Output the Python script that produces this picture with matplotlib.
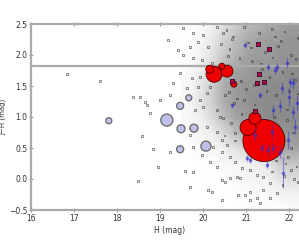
import matplotlib
matplotlib.use("Agg")
import matplotlib.pyplot as plt
from matplotlib.colors import LinearSegmentedColormap
import numpy as np

# grey haze of the dense cloud (0 = empty, 1 = full)
grid_x = [19.5, 19.75, 20.0, 20.25, 20.5, 20.75, 21.0, 21.25, 21.5, 21.75, 22.0, 22.25, 22.5]
grid_y = [-0.5, -0.25, 0.0, 0.25, 0.5, 0.75, 1.0, 1.25, 1.5, 1.75, 2.0, 2.25, 2.5]
density = [
    [0, 0, 0, 0, 0, 0, 0, 0, 0, 0, 0.02, 0.02, 0.02],
    [0, 0, 0, 0, 0, 0.01, 0.02, 0.03, 0.03, 0.06, 0.08, 0.08, 0.08],
    [0, 0, 0, 0.01, 0.02, 0.03, 0.05, 0.06, 0.08, 0.15, 0.2, 0.2, 0.2],
    [0, 0, 0.01, 0.02, 0.04, 0.06, 0.08, 0.1, 0.15, 0.3, 0.35, 0.35, 0.35],
    [0, 0.02, 0.04, 0.06, 0.1, 0.18, 0.28, 0.35, 0.45, 0.55, 0.55, 0.55, 0.55],
    [0.02, 0.04, 0.07, 0.12, 0.25, 0.4, 0.5, 0.55, 0.6, 0.65, 0.65, 0.65, 0.65],
    [0.03, 0.06, 0.12, 0.25, 0.4, 0.55, 0.6, 0.65, 0.7, 0.7, 0.7, 0.7, 0.7],
    [0.04, 0.08, 0.18, 0.32, 0.5, 0.6, 0.65, 0.7, 0.7, 0.7, 0.7, 0.7, 0.7],
    [0.03, 0.07, 0.18, 0.33, 0.5, 0.6, 0.65, 0.65, 0.7, 0.7, 0.7, 0.7, 0.7],
    [0.02, 0.05, 0.14, 0.28, 0.45, 0.55, 0.6, 0.65, 0.65, 0.65, 0.7, 0.7, 0.7],
    [0, 0.03, 0.1, 0.2, 0.35, 0.45, 0.55, 0.6, 0.6, 0.65, 0.65, 0.65, 0.65],
    [0, 0.02, 0.07, 0.14, 0.28, 0.4, 0.5, 0.55, 0.6, 0.6, 0.65, 0.65, 0.65],
    [0, 0, 0.04, 0.1, 0.2, 0.3, 0.4, 0.45, 0.5, 0.55, 0.6, 0.6, 0.6],
]

# individual field sources (H, colour)
dots_x = [16.84, 17.60, 18.37, 18.53, 18.65, 18.70, 18.77, 18.58, 18.49, 18.84,
          19.58, 19.77, 19.70, 20.12, 20.21, 20.44, 20.51, 20.63, 20.79, 20.86,
          20.44, 20.81, 20.98, 21.09, 21.26, 21.40, 21.56, 21.72, 21.09, 20.44,
          20.63, 20.74, 20.91, 21.09, 21.26, 21.40, 21.56, 20.16, 20.33, 19.98,
          20.23, 20.44, 20.56, 19.70, 20.33, 20.09, 20.74, 19.77, 18.95, 19.23,
          21.33, 19.53, 19.77, 20.00, 19.88, 19.70, 20.12, 19.53, 19.77, 19.98,
          19.47, 19.74, 19.93, 19.30, 19.63, 19.88, 19.23, 19.00, 19.93, 20.09,
          19.42, 19.19, 20.33, 20.47, 20.21, 20.16, 20.00, 19.81, 20.33,
          20.55, 20.62, 20.70, 20.85, 20.95, 21.05, 21.15, 21.30, 21.45, 21.60,
          21.75, 21.90, 22.05, 22.20, 20.60, 20.80, 21.00, 21.20, 21.35, 21.55,
          21.70, 21.85, 22.00, 22.15, 20.40, 20.65, 20.90, 21.10, 21.40, 21.65,
          21.95, 22.10, 20.50, 20.75, 21.05, 21.25, 21.50, 21.80, 22.05, 22.25,
          21.92, 22.05, 21.98, 22.18, 21.88, 22.12, 21.70, 21.60, 21.85, 22.20,
          20.42, 20.58, 20.68, 20.36, 20.52, 20.88, 21.12, 21.38, 21.62, 21.82,
          22.08, 22.22, 20.72, 20.96, 21.18, 21.48, 21.68, 21.96, 22.16, 20.46]
dots_y = [1.69, 1.58, 1.32, 1.32, 1.24, 1.19, 1.06, 0.69, -0.03, 0.48,
          0.13, 0.11, -0.13, -0.18, -0.21, -0.02, -0.05, 0.02, 0.03, 0.02,
          -0.34, -0.26, -0.26, -0.34, -0.31, -0.18, -0.31, -0.23, -0.21, 0.44,
          0.35, 0.27, 0.18, 0.15, 0.06, 0.03, -0.06, 0.27, 0.19, 0.39,
          0.52, 0.63, 0.55, 0.71, 0.76, 0.84, 0.74, 0.52, 0.19, 0.44,
          -0.39, 2.44, 2.35, 2.32, 2.21, 2.13, 2.13, 2.00, 1.95, 1.92,
          1.71, 1.63, 1.65, 1.55, 1.47, 1.48, 1.35, 1.27, 1.27, 1.39,
          2.08, 2.24, 2.45, 2.35, 1.87, 1.48, 1.16, 1.11, 1.11,
          2.40, 2.10, 2.30, 1.95, 2.45, 2.20, 1.90, 2.35, 2.05, 2.42,
          2.15, 2.38, 2.00, 2.28, 1.40, 1.30, 1.45, 1.20, 1.85, 1.65,
          1.35, 1.72, 1.42, 1.60, 1.00, 0.90, 1.05, 0.95, 0.88, 1.00,
          0.95, 0.75, 0.70, 0.62, 0.55, 0.45, 0.35, 0.60, 0.50, 0.40,
          0.25, 0.15, 0.35, 0.20, 0.05, 0.00, 0.30, 0.12, -0.10, -0.05,
          2.18, 1.98, 2.26, 1.62, 1.35, 1.58, 2.12, 1.78, 1.96, 2.22,
          1.70, 1.38, 1.22, 1.28, 1.52, 1.42, 2.30, 1.12, 1.94, 0.98]

# hollow circled sources
ring_x = [17.81, 19.16, 19.49, 19.79, 19.47, 19.67, 19.47, 20.07]
ring_y = [0.94, 0.95, 0.81, 0.82, 1.18, 1.31, 0.48, 0.53]
ring_r = [3, 6, 4, 4, 3.5, 3, 3.5, 5]

# red circled sources
red_x = [21.42, 21.05, 21.21, 20.26, 20.56, 20.16, 20.44, 20.72]
red_y = [0.62, 0.83, 0.98, 1.69, 1.74, 1.77, 1.82, 1.53]
red_r = [21, 8, 6, 8, 6, 4, 3, 3]

# red squares
sq_x = [21.28, 21.53, 21.30, 21.42, 21.26, 20.67, 21.21]
sq_y = [2.18, 2.10, 1.69, 1.56, 1.55, 1.58, 1.10]

# blue points with error bars
blue_x = [20.98, 21.95, 21.51, 21.72, 22.09, 21.79, 22.00, 22.19, 21.33, 20.67,
          21.60, 21.37, 21.63, 21.79, 21.98, 22.14, 21.02, 21.49, 21.86, 21.21,
          21.51, 21.09, 21.67, 22.02, 21.84, 21.63, 22.09]
blue_y = [2.16, 1.87, 1.81, 1.81, 1.55, 1.18, 1.32, 1.23, 1.35, 1.19,
          0.76, 0.50, 0.50, 0.44, 0.63, 0.84, 0.34, 0.23, 0.10, 0.71,
          0.47, 0.31, 1.76, 1.56, 1.47, 1.11, 1.08]
blue_e = [0.05, 0.08, 0.05, 0.06, 0.10, 0.10, 0.15, 0.12, 0.05, 0.04,
          0.12, 0.06, 0.08, 0.10, 0.15, 0.12, 0.05, 0.06, 0.25, 0.10,
          0.10, 0.05, 0.06, 0.08, 0.10, 0.08, 0.10]

cut_line = 1.82

fig = plt.figure(figsize=(2.99, 2.40), dpi=100)
ax = fig.add_axes([0.1037, 0.125, 0.93, 0.775])

grey = LinearSegmentedColormap.from_list("haze", ["#ffffff", "#5a5a5a"])
ax.pcolormesh(grid_x, grid_y, np.array(density), cmap=grey, vmin=0, vmax=1,
              shading="gouraud", zorder=0)

ax.scatter(dots_x, dots_y, s=1.6, marker="s", facecolors="none",
           edgecolors="#3a3a3a", linewidths=0.4, zorder=1)

ax.axhline(cut_line, color="#aaaaaa", lw=1.6, zorder=2)

pt = 0.72  # points per pixel
ax.scatter(ring_x, ring_y, s=[(2 * r * pt) ** 2 for r in ring_r],
           facecolors="#c0c0ec", edgecolors="#707070", linewidths=1.0, zorder=3)
ax.scatter(red_x, red_y, s=[(2 * r * pt) ** 2 for r in red_r],
           facecolors="#ee0000", edgecolors="#500000", linewidths=0.6, zorder=4)
ax.errorbar(blue_x, blue_y, yerr=blue_e, fmt="s", ms=1.5, color="#3030d0",
            mec="#3030d0", elinewidth=0.8, capsize=0, alpha=0.5, zorder=5)
ax.scatter(sq_x, sq_y, s=12, marker="s", facecolors="#b01040",
           edgecolors="#300030", linewidths=0.6, zorder=6)

ax.set_xlim(16, 22.47)
ax.set_ylim(-0.5, 2.5)
ax.set_xticks([16, 17, 18, 19, 20, 21, 22])
ax.set_yticks([-0.5, 0.0, 0.5, 1.0, 1.5, 2.0, 2.5])
ax.set_yticklabels(["\u22120.5", "0.0", "0.5", "1.0", "1.5", "2.0", "2.5"])
ax.tick_params(labelsize=5.5, labelcolor="#333333", color="#999999",
               length=2.5, width=0.8, direction="inout", pad=1.5,
               top=True, right=True)
for side in ["left", "bottom", "top"]:
    ax.spines[side].set_color("#aaaaaa")
    ax.spines[side].set_linewidth(1.6)
ax.spines["right"].set_visible(False)

ax.set_xlabel("H (mag)", fontsize=5.5, color="#333333", labelpad=2)
ax.set_ylabel("J\u2212H (mag)", fontsize=5, color="#333333", labelpad=0)
ax.yaxis.set_label_coords(-0.088, 0.5)

fig.savefig("out.png", dpi=100)
